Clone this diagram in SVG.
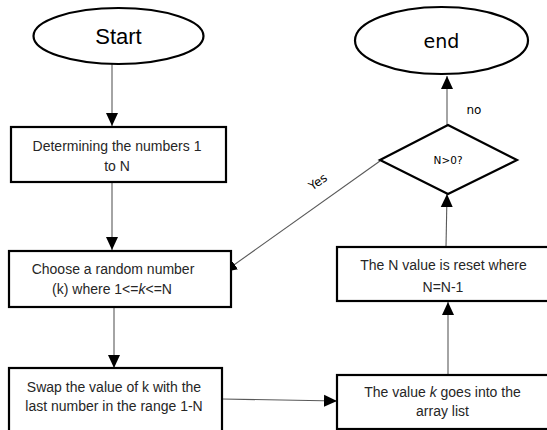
<svg xmlns="http://www.w3.org/2000/svg" width="547" height="430" viewBox="0 0 547 430">
<style>
.shape{fill:#fff;stroke:#000;stroke-width:2.2}
.conn{fill:none;stroke:#595959;stroke-width:1.1}
.bt{font-family:"Liberation Sans",Arial,sans-serif;font-size:14px;fill:#262626;text-anchor:middle}
.dv{font-family:"DejaVu Sans",sans-serif;fill:#000;text-anchor:middle}
</style>
<defs>
<marker id="ah" markerUnits="userSpaceOnUse" markerWidth="14" markerHeight="14" viewBox="0 0 14 14" refX="13" refY="7" orient="auto">
<path d="M0,1 L13,7 L0,13 Z" fill="#000"/>
</marker>
</defs>
<rect width="547" height="430" fill="#fff"/>
<g id="connectors">
<line class="conn" x1="112" y1="64" x2="112" y2="126" marker-end="url(#ah)"/>
<line class="conn" x1="112" y1="182" x2="112" y2="250" marker-end="url(#ah)"/>
<line class="conn" x1="114" y1="307" x2="114" y2="368" marker-end="url(#ah)"/>
<line class="conn" x1="222" y1="399" x2="337" y2="401" marker-end="url(#ah)"/>
<line class="conn" x1="448" y1="375" x2="448" y2="302" marker-end="url(#ah)"/>
<line class="conn" x1="446" y1="247" x2="447" y2="194" marker-end="url(#ah)"/>
<line class="conn" x1="447" y1="125" x2="447" y2="76" marker-end="url(#ah)"/>
<line class="conn" x1="380" y1="161" x2="224" y2="272" marker-end="url(#ah)"/>
<text class="dv" font-size="12" transform="translate(318,182) rotate(-35)" y="4">Yes</text>
<text class="dv" font-size="12" x="474" y="114">no</text>
</g>
<g id="start">
<ellipse class="shape" cx="118.5" cy="36" rx="85" ry="28"/>
<text x="118.5" y="44" font-family="'Liberation Sans',Arial,sans-serif" font-size="22" text-anchor="middle" fill="#000">Start</text>
</g>
<g id="end">
<ellipse class="shape" cx="441.5" cy="40.5" rx="86.5" ry="33.5"/>
<text class="dv" x="441.5" y="48" font-size="19">end</text>
</g>
<g id="determine">
<rect class="shape" x="11" y="127" width="215" height="55"/>
<text class="bt" x="117" y="151">Determining the numbers 1</text>
<text class="bt" x="117" y="171">to N</text>
</g>
<g id="choose">
<rect class="shape" x="9" y="251" width="222" height="56"/>
<text class="bt" x="113" y="274">Choose a random number</text>
<text class="bt" x="112" y="294">(k) where 1&lt;=<tspan font-style="italic">k</tspan>&lt;=N</text>
</g>
<g id="swap">
<rect class="shape" x="9" y="368" width="213" height="70"/>
<text class="bt" x="114" y="392">Swap the value of k with the</text>
<text class="bt" x="114" y="411">last number in the range 1-N</text>
</g>
<g id="array">
<rect class="shape" x="337" y="375" width="220" height="54"/>
<text class="bt" x="442.5" y="397">The value <tspan font-style="italic">k</tspan> goes into the</text>
<text class="bt" x="442.5" y="416">array list</text>
</g>
<g id="reset">
<rect class="shape" x="337" y="247" width="220" height="54"/>
<text class="bt" x="443.5" y="270">The N value is reset where</text>
<text class="bt" x="443" y="292">N=N-1</text>
</g>
<g id="decision">
<polygon class="shape" points="380,160 448,125 517,160 448,194"/>
<text class="dv" x="448" y="164" font-size="10.5">N&gt;0?</text>
</g>
</svg>
